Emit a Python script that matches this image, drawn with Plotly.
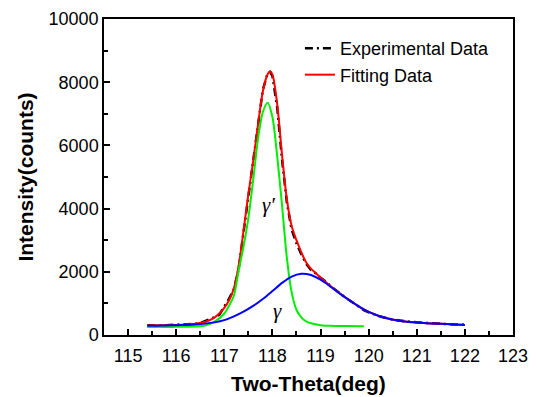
import plotly.graph_objects as go

# Experimental data (black dash-dot)
exp_x = [115.4, 115.5, 115.6, 115.7, 115.8, 115.9, 116.0, 116.1, 116.2, 116.3, 116.4, 116.5,
         116.6, 116.7, 116.8, 116.9, 117.0, 117.1, 117.2, 117.3, 117.4, 117.5, 117.6, 117.7,
         117.8, 117.9, 117.95, 118.0, 118.1, 118.2, 118.3, 118.4, 118.5, 118.6, 118.7, 118.8,
         118.9, 119.0, 119.1, 119.2, 119.3, 119.4, 119.5, 119.6, 119.7, 119.8, 119.9, 120.0,
         120.1, 120.2, 120.3, 120.4, 120.5, 120.6, 120.7, 120.8, 120.9, 121.0, 121.1, 121.2,
         121.3, 121.4, 121.5, 121.6, 121.7, 121.8, 121.9, 122.0]
exp_y = [310, 300, 305, 300, 310, 315, 320, 325, 335, 340, 355, 375,
         430, 480, 560, 650, 900, 1150, 1450, 2100, 3250, 4400, 5500, 6700,
         7750, 8280, 8330, 8200, 7200, 5550, 4200, 3330, 2900, 2560, 2260, 2060,
         1950, 1810, 1700, 1560, 1430, 1330, 1200, 1100, 1000, 880, 790, 720,
         650, 600, 560, 520, 490, 470, 445, 430, 415, 400, 390, 380,
         365, 365, 350, 345, 335, 330, 340, 320]

# Fitting data (red)
fit_x = [115.4, 115.6, 115.8, 116.0, 116.2, 116.4, 116.6, 116.8, 116.9, 117.0, 117.1, 117.2,
         117.3, 117.4, 117.5, 117.6, 117.7, 117.8, 117.9, 117.95, 118.0, 118.1, 118.2, 118.3,
         118.4, 118.5, 118.6, 118.7, 118.8, 118.9, 119.0, 119.2, 119.4, 119.6, 119.8, 120.0,
         120.2, 120.4, 120.6, 120.8, 121.0, 121.2, 121.4, 121.6, 121.8, 122.0]
fit_y = [300, 305, 310, 320, 335, 360, 410, 560, 690, 860, 1100, 1480,
         2200, 3300, 4450, 5500, 6650, 7700, 8250, 8340, 8250, 7300, 5700, 4300,
         3450, 3000, 2620, 2300, 2100, 1960, 1820, 1560, 1320, 1100, 900, 730,
         610, 520, 460, 420, 395, 375, 360, 345, 335, 320]

# gamma-prime peak (green)
gp_x = [115.4, 115.6, 115.8, 116.0, 116.2, 116.4, 116.6, 116.8, 117.0, 117.1, 117.2, 117.3,
        117.4, 117.5, 117.6, 117.7, 117.8, 117.9, 118.0, 118.1, 118.2, 118.3, 118.4, 118.5,
        118.6, 118.7, 118.8, 119.0, 119.2, 119.5, 119.9]
gp_y = [250, 252, 255, 258, 262, 270, 300, 420, 680, 930, 1250, 2050,
        2800, 3700, 4900, 6200, 7050, 7350, 6900, 5650, 4100, 2450, 1350, 800,
        560, 430, 370, 310, 290, 282, 280]

# gamma peak (blue)
g_x = [115.4, 115.6, 115.8, 116.0, 116.2, 116.4, 116.6, 116.8, 117.0, 117.2, 117.4, 117.6,
       117.8, 118.0, 118.2, 118.4, 118.6, 118.8, 119.0, 119.2, 119.4, 119.6, 119.8, 120.0,
       120.2, 120.4, 120.6, 120.8, 121.0, 121.2, 121.4, 121.6, 121.8, 122.0]
g_y = [290, 295, 300, 310, 320, 335, 360, 400, 470, 590, 740, 920,
       1140, 1390, 1650, 1850, 1940, 1900, 1750, 1540, 1310, 1100, 900, 730,
       610, 520, 460, 420, 395, 375, 360, 345, 335, 320]

x_ticks = [115, 116, 117, 118, 119, 120, 121, 122, 123]
y_ticks = [0, 2000, 4000, 6000, 8000, 10000]
y_tick_text = ["0", "2000", "4000", "6000", "8000", "10000"]

fig = go.Figure()
fig.add_trace(go.Scatter(x=exp_x, y=exp_y, mode="lines", name="Experimental Data",
                         line=dict(color="#000000", width=2.5, dash="8px,4px,2px,4px"),
                         legendrank=1))
fig.add_trace(go.Scatter(x=fit_x, y=fit_y, mode="lines", name="Fitting Data",
                         line=dict(color="#ff0000", width=2, shape="spline", smoothing=0.8),
                         legendrank=2))
fig.add_trace(go.Scatter(x=gp_x, y=gp_y, mode="lines", showlegend=False,
                         line=dict(color="#00ee00", width=2, shape="spline", smoothing=0.8)))
fig.add_trace(go.Scatter(x=g_x, y=g_y, mode="lines", showlegend=False,
                         line=dict(color="#0000ff", width=2, shape="spline", smoothing=0.8)))

fig.add_annotation(x=117.91, y=4100, text="<i>γ′</i>", showarrow=False,
                   font=dict(family="Liberation Serif", size=21, color="black"))
fig.add_annotation(x=118.1, y=750, text="<i>γ</i>", showarrow=False,
                   font=dict(family="Liberation Serif", size=21, color="black"))

axis_common = dict(showline=True, linecolor="black", linewidth=1.5, mirror=True,
                   ticks="inside", tickcolor="black", tickwidth=1.5, ticklen=6,
                   showgrid=False, zeroline=False, automargin=False,
                   tickfont=dict(family="Liberation Sans", size=18, color="black"))

fig.update_xaxes(range=[114.5, 123], tickvals=x_ticks, ticklabelstandoff=4,
                 minor=dict(ticks="inside", dtick=0.5, tick0=114.5, ticklen=4, tickwidth=1.5,
                            tickcolor="black"),
                 title=dict(text="<b>Two-Theta(deg)</b>", standoff=11,
                            font=dict(family="Liberation Sans", size=21, color="black")),
                 **axis_common)
fig.update_yaxes(range=[0, 10000], tickvals=y_ticks, ticktext=y_tick_text,
                 minor=dict(ticks="inside", dtick=1000, ticklen=4, tickwidth=1.5,
                            tickcolor="black"),
                 title=dict(text="<b>Intensity(counts)</b>", standoff=9,
                            font=dict(family="Liberation Sans", size=21, color="black")),
                 **axis_common)

fig.update_layout(
    width=537, height=397,
    margin=dict(l=104, r=24, t=19, b=62),
    paper_bgcolor="white", plot_bgcolor="white",
    showlegend=True,
    legend=dict(x=0.479, y=0.965, xanchor="left", yanchor="top",
                bgcolor="rgba(0,0,0,0)", borderwidth=0,
                font=dict(family="Liberation Sans", size=18, color="black"),
                tracegroupgap=0, itemwidth=30),
)

fig.write_html("out.html", config={"displayModeBar": False},
               post_script="document.body.style.margin='0px';document.body.style.overflow='hidden';")
